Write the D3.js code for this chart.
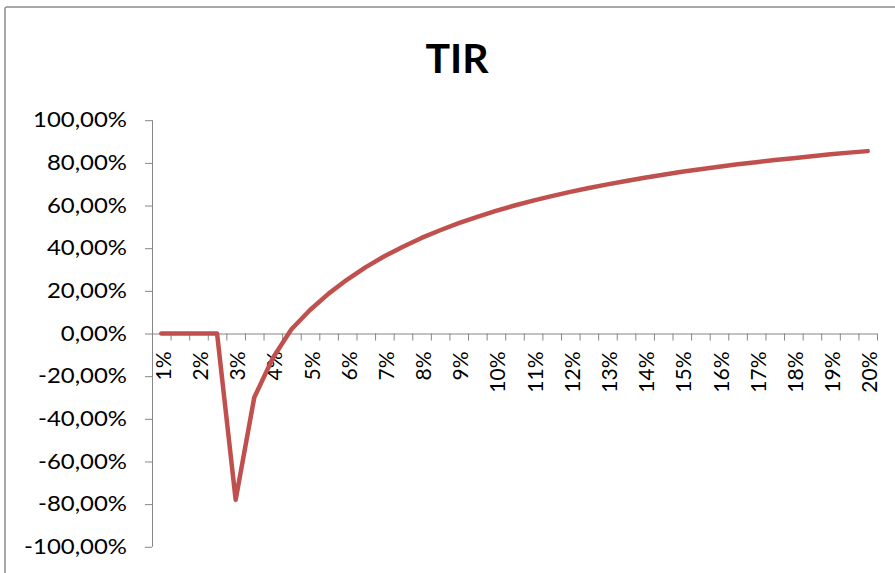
<!DOCTYPE html>
<html>
<head>
<meta charset="utf-8">
<script src="https://cdn.jsdelivr.net/npm/d3@7"></script>
<style>
  html, body { margin: 0; padding: 0; background: #ffffff; }
  svg { display: block; }
</style>
</head>
<body>
<svg id="chart" width="895" height="573"></svg>
<script>
// Discount rates (categories) and the resulting TIR, in percent
const rates = [1, 1.5, 2, 2.5, 3, 3.5, 4, 4.5, 5, 5.5, 6, 6.5, 7, 7.5, 8, 8.5, 9, 9.5, 10,
               10.5, 11, 11.5, 12, 12.5, 13, 13.5, 14, 14.5, 15, 15.5, 16, 16.5, 17, 17.5,
               18, 18.5, 19, 19.5, 20];
const tirValues = [0, 0, 0, 0, -78, -30, -11.5, 2, 11, 18.7, 25.3, 31.1, 36.2, 40.7, 44.8,
                   48.4, 51.7, 54.7, 57.5, 60.0, 62.3, 64.4, 66.4, 68.2, 69.9, 71.5, 73.0,
                   74.4, 75.8, 77.0, 78.2, 79.3, 80.3, 81.3, 82.2, 83.1, 84.0, 84.8, 85.5];
const labeledRates = [1, 2, 3, 4, 5, 6, 7, 8, 9, 10, 11, 12, 13, 14, 15, 16, 17, 18, 19, 20];
const yTicks = [-100, -80, -60, -40, -20, 0, 20, 40, 60, 80, 100];
const chartTitle = "TIR";

const svg = d3.select("#chart");
const plot = { left: 152, right: 877, top: 120.2, bottom: 546.8 };
const axisColor = "#868686";
const font = "Lato, 'Open Sans', sans-serif";

// Outer chart frame (runs off the right and bottom edges)
svg.append("rect")
  .attr("x", 5).attr("y", 7)
  .attr("width", 1000).attr("height", 1000)
  .attr("rx", 2)
  .attr("fill", "#ffffff")
  .attr("stroke", "#8c8c8c")
  .attr("stroke-width", 1.5);

// Title
svg.append("text")
  .attr("x", 457).attr("y", 73)
  .attr("text-anchor", "middle")
  .attr("font-family", font)
  .attr("font-weight", "bold")
  .attr("font-size", 41)
  .attr("fill", "#000")
  .text(chartTitle);

// Scales
const x = d3.scaleBand().domain(rates).range([plot.left, plot.right]).padding(0);
const xEdges = d3.scaleLinear().domain([0, rates.length]).range([plot.left, plot.right]);
const y = d3.scaleLinear().domain([-100, 100]).range([plot.bottom, plot.top]);
const fmtPct = d => d.toFixed(2).replace(".", ",") + "%";

// Y axis
const yAxis = svg.append("g")
  .attr("transform", `translate(${plot.left},0)`)
  .call(d3.axisLeft(y).tickValues(yTicks).tickSize(7).tickFormat(fmtPct));
yAxis.select(".domain").attr("stroke", axisColor).attr("d", `M0.5,${plot.top}V${plot.bottom}`);
yAxis.selectAll(".tick line").attr("stroke", axisColor);
yAxis.selectAll(".tick text")
  .attr("font-family", font).attr("font-size", 21).attr("fill", "#000")
  .attr("x", 0)
  .attr("transform", "translate(-25,0) scale(1.14,1)");

// X axis: tick marks between categories, at the zero line
const y0 = y(0);
const xTicks = svg.append("g")
  .attr("transform", `translate(0,${y0})`)
  .call(d3.axisBottom(xEdges).tickValues(d3.range(1, rates.length + 1)).tickSize(7).tickFormat(""));
xTicks.select(".domain").attr("stroke", axisColor).attr("d", `M${plot.left},0.5H${plot.right}`);
xTicks.selectAll(".tick line").attr("stroke", axisColor);

// X axis labels, rotated, every whole percent
const xLabels = svg.append("g")
  .attr("transform", `translate(0,${y0})`)
  .call(d3.axisBottom(x).tickValues(labeledRates).tickSize(0).tickFormat(d => d + "%"));
xLabels.select(".domain").remove();
xLabels.selectAll(".tick text")
  .attr("font-family", font).attr("font-size", 21).attr("fill", "#000")
  .attr("text-anchor", "end")
  .attr("transform", "translate(2,18) rotate(-90)")
  .attr("x", 0).attr("y", 0).attr("dy", "0.36em");

// TIR line
const line = d3.line()
  .x((d, i) => x(rates[i]) + x.bandwidth() / 2)
  .y(d => y(d));
svg.append("path")
  .datum(tirValues)
  .attr("fill", "none")
  .attr("stroke", "#C0504D")
  .attr("stroke-width", 4.5)
  .attr("stroke-linejoin", "round")
  .attr("stroke-linecap", "round")
  .attr("d", line);
</script>
</body>
</html>
